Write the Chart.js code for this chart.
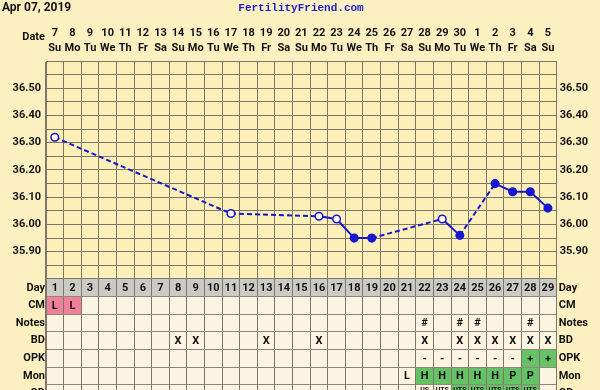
<!DOCTYPE html>
<html>
<head>
<meta charset="utf-8">
<script src="https://cdn.jsdelivr.net/npm/chart.js@4.4.1/dist/chart.umd.min.js"></script>
<style>
  html, body { margin: 0; padding: 0; background: #fcf0c0; overflow: hidden; }
  #wrap { width: 600px; height: 390px; overflow: hidden; }
</style>
</head>
<body>
<div id="wrap"><canvas id="bbtChart" width="600" height="408"></canvas></div>
<script>
// cycle days, calendar dates and weekdays
var cycleDays = [1,2,3,4,5,6,7,8,9,10,11,12,13,14,15,16,17,18,19,20,21,22,23,24,25,26,27,28,29];
var dates = ['7','8','9','10','11','12','13','14','15','16','17','18','19','20','21','22','23','24','25','26','27','28','29','30','1','2','3','4','5'];
var weekdays = ['Su','Mo','Tu','We','Th','Fr','Sa','Su','Mo','Tu','We','Th','Fr','Sa','Su','Mo','Tu','We','Th','Fr','Sa','Su','Mo','Tu','We','Th','Fr','Sa','Su'];

// temperatures (null = not recorded)
var temps = [36.32, null, null, null, null, null, null, null, null, null,
             36.04, null, null, null, null, 36.03, 36.02, 35.95, 35.95, null,
             null, null, 36.02, 35.96, null, 36.15, 36.12, 36.12, 36.06];
var openDays = [1, 11, 16, 17, 23];   // hollow circles

// rows of the table under the chart
var rowLabels = ['Day', 'CM', 'Notes', 'BD', 'OPK', 'Mon', 'OD'];
var cmDays = [1, 2];
var noteDays = [22, 24, 25, 28];
var bdDays = [8, 9, 13, 16, 22, 24, 25, 26, 27, 28, 29];
var opkNegDays = [22, 23, 24, 25, 26, 27];
var opkPosDays = [28, 29];
var monLowDays = [21];
var monHighDays = [22, 23, 24, 25, 26];
var monPeakDays = [27, 28];
var odDays = [22, 23, 24, 25, 26, 27, 28];
var odMarks = ['US', 'UTS', 'UTS', 'UTS', 'UTS', 'UTS', 'UTS'];
var odHighDays = [24, 25, 26, 27, 28];

var blue = '#1717cf';
var green = '#66c266';
var pink = '#f0809a';
var gridCol = '#7c776a';
var fam = 'Roboto, sans-serif';

function cell(row, day) {
  if (row === 'Day') return { t: String(day), bg: '#cbcac6' };
  if (row === 'CM' && cmDays.includes(day)) return { t: 'L', bg: pink };
  if (row === 'Notes' && noteDays.includes(day)) return { t: '#' };
  if (row === 'BD' && bdDays.includes(day)) return { t: 'X' };
  if (row === 'OPK') {
    if (opkNegDays.includes(day)) return { t: '-' };
    if (opkPosDays.includes(day)) return { t: '+', bg: green };
  }
  if (row === 'Mon') {
    if (monLowDays.includes(day)) return { t: 'L' };
    if (monHighDays.includes(day)) return { t: 'H', bg: green };
    if (monPeakDays.includes(day)) return { t: 'P', bg: green };
  }
  if (row === 'OD' && odDays.includes(day)) {
    return { t: odMarks[odDays.indexOf(day)], bg: odHighDays.includes(day) ? green : null, small: true };
  }
  return null;
}

var tablePlugin = {
  id: 'ffTable',
  beforeDraw: function(chart) {
    var ctx = chart.ctx, a = chart.chartArea;
    var x = chart.scales.x, r = chart.scales.rows, t = chart.scales.y;
    var half = (x.getPixelForValue(1) - x.getPixelForValue(0)) / 2;
    var rh = (r.getPixelForValue(1) - r.getPixelForValue(0));
    ctx.save();
    ctx.fillStyle = '#fcf0c0';
    ctx.fillRect(0, 0, chart.width, chart.height);
    ctx.fillStyle = '#fcefb8';
    ctx.fillRect(a.left, a.top, a.right - a.left, t.bottom - a.top);
    ctx.fillStyle = '#fbf4e0';
    ctx.fillRect(a.left, r.top, a.right - a.left, r.bottom - r.top);
    rowLabels.forEach(function(row, ri) {
      var cy = r.getPixelForValue(ri);
      cycleDays.forEach(function(day, i) {
        var c = cell(row, day);
        if (c && c.bg) {
          ctx.fillStyle = c.bg;
          var cx = x.getPixelForValue(i);
          ctx.fillRect(cx - half, cy - rh / 2, half * 2, rh);
        }
      });
    });
    ctx.restore();
  },
  afterDraw: function(chart) {
    var ctx = chart.ctx;
    var x = chart.scales.x, r = chart.scales.rows;
    ctx.save();
    ctx.textAlign = 'center';
    ctx.textBaseline = 'middle';
    ctx.fillStyle = '#111';
    rowLabels.forEach(function(row, ri) {
      var cy = r.getPixelForValue(ri);
      cycleDays.forEach(function(day, i) {
        var c = cell(row, day);
        if (!c) return;
        ctx.font = c.small ? 'bold 7px ' + fam : 'bold 11px ' + fam;
        ctx.fillText(c.t, x.getPixelForValue(i), c.small ? cy - 3 : cy + 0.5);
      });
    });
    // header texts
    ctx.textAlign = 'right';
    ctx.font = 'bold 11px ' + fam;
    ctx.fillText('Date', 45, 37);
    ctx.textAlign = 'left';
    ctx.textBaseline = 'alphabetic';
    ctx.font = 'bold 12px ' + fam;
    ctx.fillText('Apr 07, 2019', 2, 11);
    ctx.textAlign = 'center';
    ctx.fillStyle = '#2222cc';
    ctx.font = "bold 11px 'Liberation Mono', monospace";
    ctx.fillText('FertilityFriend.com', 301, 11);
    ctx.restore();
  }
};

var tickFont = { family: fam, size: 11, weight: 'bold', lineHeight: 1.4 };

function tempTick(v) {
  var c = Math.round(v * 100);
  return (c % 10 === 0 && c > 3580 && c < 3660) ? (c / 100).toFixed(2) : '';
}

function fitSide(w) {
  return function(s) { s.width = w; s.paddingTop = 0; s.paddingBottom = 0; };
}

// gaps between recorded days are drawn dashed
function gapDash(c) {
  return (c.p0.skip || c.p1.skip) ? [5, 3] : undefined;
}

new Chart(document.getElementById('bbtChart'), {
  type: 'line',
  data: {
    labels: dates.map(function(d, i) { return [d, weekdays[i]]; }),
    datasets: [{
      data: temps,
      xAxisID: 'x',
      yAxisID: 'y',
      spanGaps: true,
      tension: 0,
      borderColor: blue,
      borderWidth: 2,
      pointRadius: 3.8,
      pointBorderWidth: 1.5,
      pointBorderColor: blue,
      pointBackgroundColor: function(c) {
        return openDays.includes(cycleDays[c.dataIndex]) ? '#ffffff' : blue;
      },
      segment: { borderDash: gapDash }
    }]
  },
  options: {
    responsive: false,
    animation: false,
    events: [],
    layout: { padding: 0 },
    plugins: { legend: { display: false }, tooltip: { enabled: false } },
    scales: {
      x: {
        type: 'category',
        position: 'top',
        offset: true,
        grid: { offset: true, color: gridCol, drawTicks: false },
        border: { color: gridCol },
        ticks: { font: tickFont, color: '#111', padding: 5, maxRotation: 0, autoSkip: false },
        afterFit: function(s) { s.height = 61; s.paddingLeft = 0; s.paddingRight = 0; }
      },
      rows: {
        type: 'category',
        labels: rowLabels,
        position: 'left',
        stack: 'L',
        stackWeight: 123,
        offset: true,
        grid: { offset: true, color: '#8f8878', drawTicks: false },
        border: { color: gridCol },
        ticks: { font: tickFont, color: '#111', padding: 1, autoSkip: false },
        afterFit: fitSide(46)
      },
      y: {
        type: 'linear',
        position: 'left',
        stack: 'L',
        stackWeight: 217,
        min: 35.8,
        max: 36.6,
        grid: { color: gridCol, drawTicks: false },
        border: { color: gridCol },
        ticks: { stepSize: 0.05, callback: tempTick, font: tickFont, color: '#111', padding: 5, autoSkip: false },
        afterFit: fitSide(46)
      },
      yR: {
        type: 'linear',
        position: 'right',
        stack: 'R',
        stackWeight: 217,
        min: 35.8,
        max: 36.6,
        grid: { display: false, drawTicks: false },
        border: { color: gridCol },
        ticks: { stepSize: 0.05, callback: tempTick, font: tickFont, color: '#111', padding: 3, autoSkip: false },
        afterFit: fitSide(43.3)
      },
      rowsR: {
        type: 'category',
        labels: rowLabels,
        position: 'right',
        stack: 'R',
        stackWeight: 123,
        offset: true,
        grid: { display: false, drawTicks: false },
        border: { color: gridCol },
        ticks: { font: tickFont, color: '#111', padding: 2, autoSkip: false },
        afterFit: fitSide(43.3)
      }
    }
  },
  plugins: [tablePlugin]
});
</script>
</body>
</html>
